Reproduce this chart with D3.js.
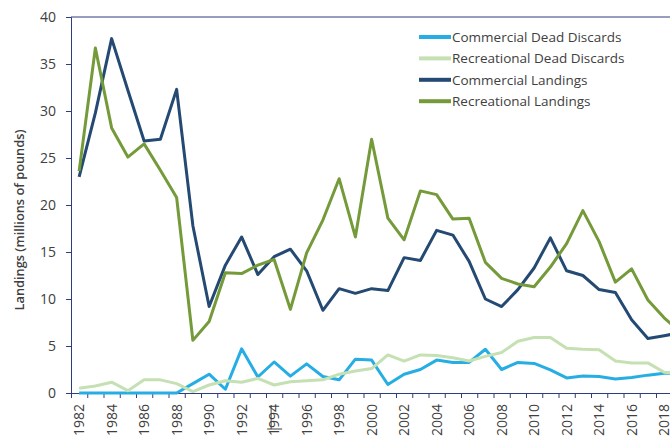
<!DOCTYPE html>
<html>
<head>
<meta charset="utf-8">
<script src="https://cdn.jsdelivr.net/npm/d3@7"></script>
<style>
  body { margin: 0; background: #fff; }
  svg text { font-family: "Open Sans", sans-serif; fill: #404040; }
</style>
</head>
<body>
<svg id="chart" width="670" height="438"></svg>
<script>
// years shown on the category axis (the picture is cut off after 2018)
const years = d3.range(1982, 2020)

// millions of pounds
const commercialDeadDiscards = [0, 0, 0, 0, 0, 0, 0, 1.0, 2.0, 0.4, 4.7, 1.7, 3.3, 1.8, 3.1, 1.75, 1.4, 3.6, 3.5, 0.9, 2.0, 2.5, 3.5, 3.25, 3.25, 4.65, 2.5, 3.25, 3.15, 2.45, 1.6, 1.8, 1.75, 1.5, 1.65, 1.9, 2.1, 2.1]
const recreationalDeadDiscards = [0.5, 0.75, 1.15, 0.25, 1.4, 1.4, 1.0, 0.15, 0.85, 1.3, 1.15, 1.55, 0.85, 1.2, 1.3, 1.4, 2.0, 2.35, 2.6, 4.05, 3.4, 4.05, 4.0, 3.75, 3.4, 3.9, 4.3, 5.5, 5.9, 5.9, 4.75, 4.65, 4.6, 3.4, 3.2, 3.2, 2.2, 2.1]
const commercialLandings = [23.0, 29.8, 37.7, 32.2, 26.8, 27.0, 32.3, 17.8, 9.2, 13.6, 16.6, 12.6, 14.5, 15.3, 13.0, 8.8, 11.1, 10.6, 11.1, 10.9, 14.4, 14.1, 17.3, 16.8, 14.0, 10.0, 9.2, 11.0, 13.3, 16.5, 13.0, 12.5, 11.0, 10.7, 7.8, 5.8, 6.1, 6.4]
const recreationalLandings = [23.6, 36.7, 28.2, 25.1, 26.5, 23.7, 20.8, 5.6, 7.6, 12.8, 12.7, 13.6, 14.2, 8.9, 14.9, 18.4, 22.8, 16.6, 27.0, 18.6, 16.3, 21.5, 21.1, 18.5, 18.6, 13.9, 12.2, 11.6, 11.3, 13.4, 15.9, 19.4, 16.1, 11.8, 13.2, 9.9, 8.0, 6.5]

const seriesNames = ["Commercial Dead Discards", "Recreational Dead Discards", "Commercial Landings", "Recreational Landings"]
const seriesValues = [commercialDeadDiscards, recreationalDeadDiscards, commercialLandings, recreationalLandings]
const seriesColors = ["#26aee4", "#c5e0b3", "#244a73", "#749a3a"]

const yTicks = d3.range(0, 41, 5)
const xLabelYears = years.filter((y) => y % 2 === 0)

const svg = d3.select("#chart")
const axisColor = "#2f3c7e"

const plotLeft = 71
const plotTop = 17
const plotBottom = 393
const step = 16.25

// category boundaries sit between years, like a spreadsheet category axis
const x = d3.scaleLinear()
  .domain([years[0] - 0.5, years[years.length - 1] + 0.5])
  .range([plotLeft, plotLeft + years.length * step])

const y = d3.scaleLinear().domain([0, 40]).range([plotBottom, plotTop])

// top border of the plot area
svg.append("line")
  .attr("x1", plotLeft).attr("x2", 670)
  .attr("y1", plotTop).attr("y2", plotTop)
  .attr("stroke", axisColor).attr("stroke-width", 1)

// y axis
const yAxis = svg.append("g")
  .attr("transform", `translate(${plotLeft},0)`)
  .call(d3.axisLeft(y).tickValues(yTicks).tickSize(5).tickPadding(10))
yAxis.select(".domain").attr("stroke", axisColor)
yAxis.selectAll(".tick line").attr("stroke", axisColor)
yAxis.selectAll(".tick text")
  .style("font-family", '"Open Sans", sans-serif')
  .style("font-size", "14px")
  .attr("fill", "#404040")

// x axis: tick marks between categories
const boundaries = years.map((d) => d - 0.5).concat([years[years.length - 1] + 0.5])
const xAxis = svg.append("g")
  .attr("transform", `translate(0,${plotBottom})`)
  .call(d3.axisBottom(x).tickValues(boundaries).tickSize(5).tickFormat(""))
xAxis.select(".domain").attr("stroke", axisColor)
xAxis.selectAll(".tick line").attr("stroke", axisColor)

// rotated year labels every two years (the original is cut off at the bottom)
svg.append("g")
  .selectAll("text")
  .data(xLabelYears)
  .join("text")
  .attr("transform", (d) => `translate(${x(d)},${plotBottom + 11}) rotate(-90)`)
  .attr("text-anchor", "end")
  .attr("dy", "0.35em")
  .style("font-size", "14px")
  .text((d) => d)

// the stray mark through the 1994 label in the original
const markX = x(1994) - 3
svg.append("path")
  .attr("d", `M${markX},405V429M${markX - 4},429H${markX + 11}`)
  .attr("fill", "none")
  .attr("stroke", "#404040").attr("stroke-width", 1)

// y axis title
svg.append("text")
  .attr("transform", `translate(20,${(plotTop + plotBottom) / 2 + 15}) rotate(-90)`)
  .attr("text-anchor", "middle")
  .attr("dy", "0.35em")
  .style("font-size", "12.8px")
  .style("font-weight", "600")
  .text("Landings (millions of pounds)")

// lines
const line = d3.line()
  .x((d, i) => x(years[i]))
  .y((d) => y(d))

svg.append("g")
  .selectAll("path")
  .data(seriesValues)
  .join("path")
  .attr("d", (d) => line(d))
  .attr("fill", "none")
  .attr("stroke", (d, i) => seriesColors[i])
  .attr("stroke-width", 3)
  .attr("stroke-linejoin", "round")

// legend
const legend = svg.append("g").attr("transform", "translate(419,37)")
const rows = legend.selectAll("g")
  .data(seriesNames)
  .join("g")
  .attr("transform", (d, i) => `translate(0,${i * 21.4})`)
rows.append("line")
  .attr("x1", 0).attr("x2", 32)
  .attr("stroke", (d, i) => seriesColors[i])
  .attr("stroke-width", 4)
rows.append("text")
  .attr("x", 33)
  .attr("dy", "0.35em")
  .style("font-size", "13.5px")
  .text((d) => d)
</script>
</body>
</html>
